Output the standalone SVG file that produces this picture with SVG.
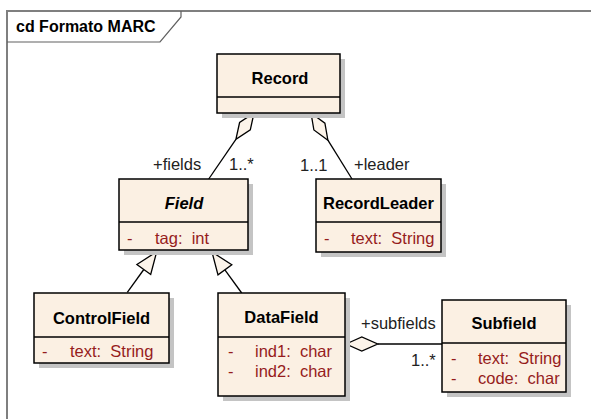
<svg xmlns="http://www.w3.org/2000/svg" width="591" height="419" viewBox="0 0 591 419">
<defs>
<style>
.frame{fill:none;stroke:#7f7f7f;stroke-width:2}
.tab{fill:none;stroke:#606060;stroke-width:1.2}
.shadow{fill:#c4c4c4}
.box{fill:#fbf0e3;stroke:#000;stroke-width:1.5}
.div{stroke:#000;stroke-width:1.5}
.name{font-family:"Liberation Sans",Arial,sans-serif;font-size:16.5px;font-weight:bold;fill:#000;text-anchor:middle}
.attr{font-family:"Liberation Sans",Arial,sans-serif;font-size:16.5px;fill:#961c1c}
.lbl{font-family:"Liberation Sans",Arial,sans-serif;font-size:16.5px;fill:#222}
.edge{fill:none;stroke:#000;stroke-width:1.3}
.head{fill:#fcf4ea;stroke:#000;stroke-width:1.3}
</style>
</defs>
<rect width="591" height="419" fill="#fff"/>
<g id="frame">
<path class="frame" d="M7 430 V11 H600"/>
<path class="tab" d="M7 42 H160 L181 17 V11"/>
<text x="16" y="32" style="font-family:'Liberation Sans',Arial,sans-serif;font-size:16px;font-weight:bold;fill:#000">cd Formato MARC</text>
</g>
<g id="connectors">
<path class="edge" d="M235.9 139.4 L208.7 179"/>
<polygon class="head" points="254,113 250.3,129.9 235.9,139.4 239.6,122.5"/>
<path class="edge" d="M327.9 140.2 L352 179"/>
<polygon class="head" points="311,113 324.9,123.2 327.9,140.2 313.9,130"/>
<path class="edge" d="M127.3 292.3 L143.8 269.5"/>
<polygon class="head" points="156.7,251.7 150.7,274.5 136.9,264.5"/>
<path class="edge" d="M241.7 293 L224.9 269.8"/>
<polygon class="head" points="212,252 231.8,264.8 218,274.8"/>
<path class="edge" d="M377.7 344 H442"/>
<polygon class="head" points="346,344 361.8,337 377.7,344 361.8,351"/>
<text class="lbl" x="153" y="170">+fields</text>
<text class="lbl" x="229" y="170">1..*</text>
<text class="lbl" x="300" y="171">1..1</text>
<text class="lbl" x="354" y="170">+leader</text>
<text class="lbl" x="361" y="329">+subfields</text>
<text class="lbl" x="411" y="366">1..*</text>
</g>
<g id="Record">
<rect class="shadow" x="222" y="59" width="123" height="59"/>
<rect class="box" x="217" y="54" width="123" height="59"/>
<line class="div" x1="217" y1="97" x2="340" y2="97"/>
<text class="name" x="280" y="84">Record</text>
</g>
<g id="Field">
<rect class="shadow" x="124" y="184" width="129" height="71"/>
<rect class="box" x="119" y="179" width="129" height="71"/>
<line class="div" x1="119" y1="222" x2="248" y2="222"/>
<text class="name" x="184" y="209" font-style="italic">Field</text>
<text class="attr" x="127" y="244">-</text>
<text class="attr" x="155" y="244" xml:space="preserve">tag:  int</text>
</g>
<g id="RecordLeader">
<rect class="shadow" x="321" y="184" width="125" height="73"/>
<rect class="box" x="316" y="179" width="125" height="73"/>
<line class="div" x1="316" y1="222" x2="441" y2="222"/>
<text class="name" x="378.5" y="209">RecordLeader</text>
<text class="attr" x="324" y="244">-</text>
<text class="attr" x="351" y="244" xml:space="preserve">text:  String</text>
</g>
<g id="ControlField">
<rect class="shadow" x="39" y="298" width="135" height="70"/>
<rect class="box" x="34" y="293" width="135" height="70"/>
<line class="div" x1="34" y1="337" x2="169" y2="337"/>
<text class="name" x="101.5" y="324">ControlField</text>
<text class="attr" x="42" y="357">-</text>
<text class="attr" x="70" y="357" xml:space="preserve">text:  String</text>
</g>
<g id="DataField">
<rect class="shadow" x="223" y="298" width="127" height="103"/>
<rect class="box" x="218" y="293" width="127" height="103"/>
<line class="div" x1="218" y1="337" x2="345" y2="337"/>
<text class="name" x="281.5" y="323">DataField</text>
<text class="attr" x="228" y="357">-</text>
<text class="attr" x="255" y="357" xml:space="preserve">ind1:  char</text>
<text class="attr" x="228" y="377">-</text>
<text class="attr" x="255" y="377" xml:space="preserve">ind2:  char</text>
</g>
<g id="Subfield">
<rect class="shadow" x="447" y="305" width="124" height="92"/>
<rect class="box" x="442" y="300" width="124" height="92"/>
<line class="div" x1="442" y1="343" x2="566" y2="343"/>
<text class="name" x="504" y="329">Subfield</text>
<text class="attr" x="451" y="364">-</text>
<text class="attr" x="478" y="364" xml:space="preserve">text:  String</text>
<text class="attr" x="451" y="384">-</text>
<text class="attr" x="478" y="384" xml:space="preserve">code:  char</text>
</g>
</svg>
